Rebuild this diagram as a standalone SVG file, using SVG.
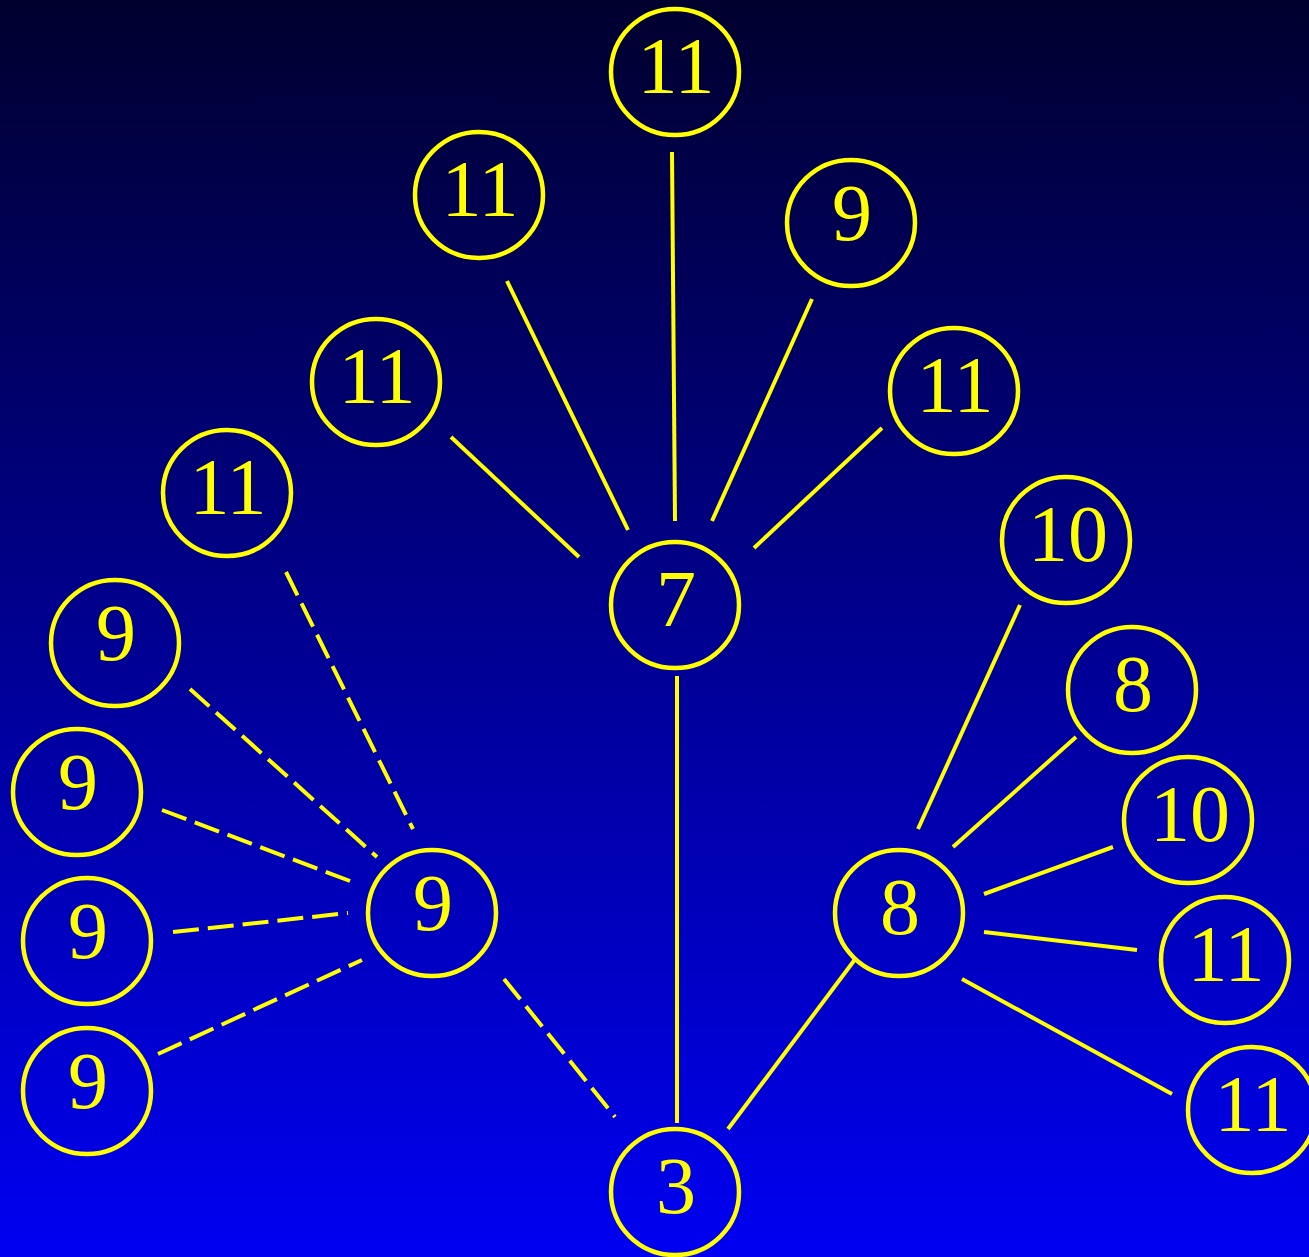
<svg xmlns="http://www.w3.org/2000/svg" width="1309" height="1257" viewBox="0 0 1309 1257">
<defs>
<linearGradient id="bg" x1="0" y1="0" x2="0" y2="1">
<stop offset="0" stop-color="#00002E"/>
<stop offset="1" stop-color="#0000F2"/>
</linearGradient>
<style>
.n ellipse{fill:none;stroke:#FFFF00;stroke-width:4.5}
.n text{fill:#FFFF00;font-family:"Liberation Serif","Times New Roman",serif;font-size:80px;text-anchor:middle}
.e line{stroke:#FFFF00;stroke-width:4}
.e line.d{stroke-dasharray:26 9}
</style>
</defs>
<rect width="1309" height="1257" fill="url(#bg)"/>
<g class="e" id="connectors">
<line x1="672" y1="152" x2="675" y2="521"/>
<line x1="507" y1="281" x2="628" y2="530"/>
<line x1="812" y1="299" x2="712" y2="521"/>
<line x1="451" y1="437" x2="579" y2="557"/>
<line x1="882" y1="428" x2="754" y2="548"/>
<line x1="677" y1="676" x2="677" y2="1123"/>
<line class="d" x1="504" y1="979" x2="615" y2="1117"/>
<line x1="856" y1="958" x2="728" y2="1129"/>
<line x1="1020" y1="605" x2="918" y2="829"/>
<line x1="1076" y1="737" x2="953" y2="847"/>
<line x1="1113" y1="847" x2="984" y2="894"/>
<line x1="984" y1="932" x2="1137" y2="950"/>
<line x1="962" y1="979" x2="1172" y2="1094"/>
<line class="d" x1="286" y1="572" x2="413" y2="829"/>
<line class="d" x1="190" y1="689" x2="377" y2="857"/>
<line class="d" x1="162" y1="810" x2="358" y2="884"/>
<line class="d" x1="173" y1="932" x2="348" y2="913"/>
<line class="d" x1="158" y1="1054" x2="362" y2="960"/>
</g>
<g class="n" id="n_top11"><ellipse cx="675" cy="72" rx="64" ry="63"/><text x="676" y="93">11</text></g>
<g class="n" id="n_11a"><ellipse cx="479" cy="195" rx="64" ry="63"/><text x="480" y="216">11</text></g>
<g class="n" id="n_9a"><ellipse cx="851" cy="223" rx="64" ry="63"/><text x="852" y="240">9</text></g>
<g class="n" id="n_11b"><ellipse cx="376" cy="382" rx="64" ry="63"/><text x="377" y="403">11</text></g>
<g class="n" id="n_11c"><ellipse cx="954" cy="391" rx="64" ry="63"/><text x="955" y="412">11</text></g>
<g class="n" id="n_11d"><ellipse cx="227" cy="493" rx="64" ry="63"/><text x="228" y="514">11</text></g>
<g class="n" id="n_7"><ellipse cx="675" cy="605" rx="64" ry="63"/><text x="676" y="626">7</text></g>
<g class="n" id="n_10a"><ellipse cx="1066" cy="540" rx="64" ry="63"/><text x="1068" y="561">10</text></g>
<g class="n" id="n_9b"><ellipse cx="115" cy="643" rx="64" ry="63"/><text x="116" y="660">9</text></g>
<g class="n" id="n_8a"><ellipse cx="1132" cy="690" rx="64" ry="63"/><text x="1133" y="711">8</text></g>
<g class="n" id="n_9c"><ellipse cx="77" cy="792" rx="64" ry="63"/><text x="78" y="809">9</text></g>
<g class="n" id="n_10b"><ellipse cx="1188" cy="820" rx="64" ry="63"/><text x="1190" y="841">10</text></g>
<g class="n" id="n_9mid"><ellipse cx="432" cy="913" rx="64" ry="63"/><text x="433" y="930">9</text></g>
<g class="n" id="n_8mid"><ellipse cx="899" cy="913" rx="64" ry="63"/><text x="900" y="934">8</text></g>
<g class="n" id="n_9d"><ellipse cx="87" cy="941" rx="64" ry="63"/><text x="88" y="958">9</text></g>
<g class="n" id="n_11e"><ellipse cx="1225" cy="960" rx="64" ry="63"/><text x="1226" y="981">11</text></g>
<g class="n" id="n_9e"><ellipse cx="87" cy="1091" rx="64" ry="63"/><text x="88" y="1108">9</text></g>
<g class="n" id="n_11f"><ellipse cx="1252" cy="1110" rx="64" ry="63"/><text x="1253" y="1131">11</text></g>
<g class="n" id="n_3"><ellipse cx="675" cy="1192" rx="64" ry="63"/><text x="676" y="1213">3</text></g>
</svg>
